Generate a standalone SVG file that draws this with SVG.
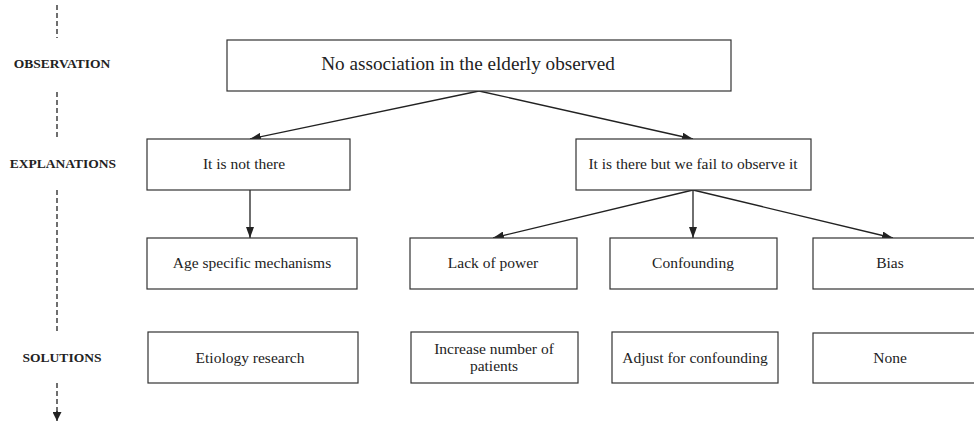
<svg xmlns="http://www.w3.org/2000/svg" width="974" height="421" viewBox="0 0 974 421">
<style>
.box{fill:#fff;stroke:#333;stroke-width:1.2}
.t{font-family:"Liberation Serif","Times New Roman",serif;font-size:15.5px;fill:#222;text-anchor:middle}
.big{font-size:19.2px}
.lab{font-family:"Liberation Serif","Times New Roman",serif;font-size:13.5px;font-weight:bold;fill:#222;text-anchor:middle}
.c{stroke:#222;stroke-width:1.3;fill:none;marker-end:url(#ah)}
.d{stroke:#222;stroke-width:1.3;fill:none;stroke-dasharray:5,3}
</style>
<defs>
<marker id="ah" markerWidth="11" markerHeight="8" refX="11" refY="4" orient="auto" markerUnits="userSpaceOnUse">
<path d="M0,0 L11,4 L0,8 z" fill="#222"/>
</marker>
<marker id="ah2" markerWidth="9" markerHeight="9" refX="9" refY="4.5" orient="auto" markerUnits="userSpaceOnUse">
<path d="M0,0 L9,4.5 L0,9 z" fill="#222"/>
</marker>
</defs>
<g id="axis">
<line class="d" x1="57" y1="5" x2="57" y2="38"/>
<line class="d" x1="57" y1="92" x2="57" y2="138"/>
<line class="d" x1="57" y1="190" x2="57" y2="332"/>
<line class="d" x1="57" y1="383" x2="57" y2="412"/>
<line x1="57" y1="411" x2="57" y2="421" stroke="#222" stroke-width="1.3" marker-end="url(#ah2)"/>
<text class="lab" x="62" y="68">OBSERVATION</text>
<text class="lab" x="63" y="168">EXPLANATIONS</text>
<text class="lab" x="62" y="362">SOLUTIONS</text>
</g>
<g id="connectors">
<line class="c" x1="479" y1="91" x2="250" y2="139"/>
<line class="c" x1="479" y1="91" x2="693" y2="139"/>
<line class="c" x1="250" y1="190" x2="250" y2="238"/>
<line class="c" x1="693" y1="190" x2="493" y2="238"/>
<line class="c" x1="693" y1="190" x2="693" y2="238"/>
<line class="c" x1="693" y1="190" x2="893" y2="238"/>
</g>
<g id="n-obs"><rect class="box" x="227" y="40" width="504" height="51"/><text class="t big" x="468" y="70">No association in the elderly observed</text></g>
<g id="n-notthere"><rect class="box" x="147" y="139" width="203" height="51"/><text class="t" x="244" y="169">It is not there</text></g>
<g id="n-there"><rect class="box" x="576" y="139" width="235" height="51"/><text class="t" x="693" y="169">It is there but we fail to observe it</text></g>
<g id="n-age"><rect class="box" x="147" y="238" width="210" height="51"/><text class="t" x="252" y="268">Age specific mechanisms</text></g>
<g id="n-power"><rect class="box" x="410" y="238" width="167" height="51"/><text class="t" x="493" y="268">Lack of power</text></g>
<g id="n-conf"><rect class="box" x="610" y="238" width="167" height="51"/><text class="t" x="693" y="268">Confounding</text></g>
<g id="n-bias"><rect class="box" x="813" y="238" width="180" height="51"/><text class="t" x="890" y="268">Bias</text></g>
<g id="n-etio"><rect class="box" x="148" y="332" width="210" height="51"/><text class="t" x="250" y="363">Etiology research</text></g>
<g id="n-incr"><rect class="box" x="411" y="332" width="167" height="51"/><text class="t" x="494" y="354">Increase number of</text><text class="t" x="494" y="371">patients</text></g>
<g id="n-adj"><rect class="box" x="612" y="332" width="166" height="51"/><text class="t" x="695" y="363">Adjust for confounding</text></g>
<g id="n-none"><rect class="box" x="813" y="333" width="180" height="50"/><text class="t" x="890" y="363">None</text></g>
</svg>
